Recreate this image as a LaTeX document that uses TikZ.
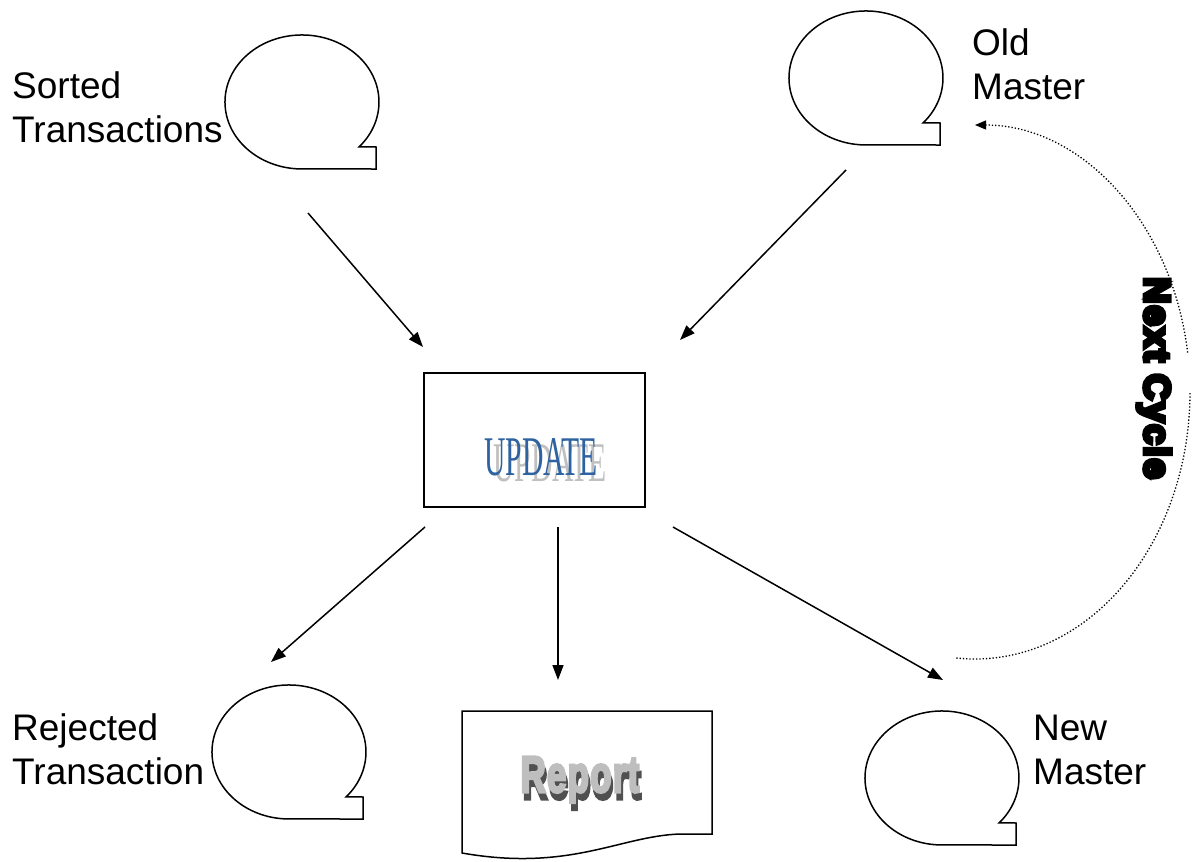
\documentclass[tikz,border=0pt]{standalone}
\usepackage{fontspec}
\setmainfont{Liberation Sans}
\newfontfamily\serifw{Liberation Serif}
\newfontfamily\heavyfont[LetterSpace=6, BoldFeatures={FakeBold=12}]{Liberation Sans}
\newfontfamily\repfont[LetterSpace=4, BoldFeatures={FakeBold=6}]{Liberation Sans}
\usetikzlibrary{arrows.meta}

\definecolor{updblue}{RGB}{46,98,160}
\definecolor{updshadow}{RGB}{192,192,192}
\definecolor{repshadow}{RGB}{80,80,80}
\definecolor{repfill}{RGB}{190,190,190}

\tikzset{
  tapeline/.style={draw=black, line width=1.5pt, line join=miter},
  flow/.style={line width=1.5pt, -{Triangle[length=15pt,width=11pt]}},
  cycleflow/.style={line width=1.3pt, dash pattern=on 1.3pt off 2pt},
  cyclehead/.style={cycleflow, -{Triangle[length=11pt,width=9pt]}},
  lbl/.style={font=\fontsize{37}{44}\selectfont, align=left, inner sep=0pt, anchor=base west},
  % magnetic tape symbol: ellipse with a square tail at the lower right
  tape/.pic={
    \draw[tapeline] (57.2,44.8)
      arc[start angle=-42, end angle=270, x radius=77pt, y radius=67pt]
      -- (74,67) -- (74,45) -- cycle;
  }
}

\begin{document}
\begin{tikzpicture}[x=1pt, y=-1pt]
  \path[use as bounding box] (0,0) rectangle (1194,862);

  % files
  \pic at (302,102) {tape};
  \pic at (866,78) {tape};
  \pic at (289,752) {tape};
  \pic at (942,778) {tape};

  % labels (anchored at the baseline of their last line)
  \node[lbl] (lsort) at (12,142) {Sorted\\Transactions};
  \node[lbl] (lold) at (972,99) {Old\\Master};
  \node[lbl] (lrej) at (12,784) {Rejected\\Transaction};
  \node[lbl] (lnew) at (1033,784) {New\\Master};

  % update process
  \node[draw, line width=1.5pt, minimum width=221pt, minimum height=134pt,
        inner sep=0pt] (upd) at (534.5,440) {};
  \node[font=\serifw\fontsize{56}{56}\selectfont, xscale=0.53, text=updshadow,
        anchor=base, inner sep=0pt] (updsh) at (550,481) {UPDATE};
  \node[font=\serifw\fontsize{56}{56}\selectfont, xscale=0.53, text=updblue,
        anchor=base, inner sep=0pt] (updtxt) at (541,475) {UPDATE};

  % report document
  \draw[tapeline] (462,711) -- (712,711) -- (712,834) -- (680,834)
    .. controls (620,836) and (570,872) .. (462,853) -- cycle;
  \node[font=\repfont\bfseries\fontsize{51}{51}\selectfont, xscale=0.68,
        text=repshadow, anchor=base, inner sep=0pt] (repsh) at (582,799) {Report};
  \node[font=\repfont\bfseries\fontsize{51}{51}\selectfont, xscale=0.68,
        text=repfill, anchor=base, inner sep=0pt] (rep) at (580,792) {Report};

  % flow end points
  \coordinate (sA) at (308,213);  \coordinate (tA) at (423,347);
  \coordinate (sB) at (846,170);  \coordinate (tB) at (680,340);
  \coordinate (sC) at (425,527);  \coordinate (tC) at (271,662);
  \coordinate (sD) at (558,527);  \coordinate (tD) at (558,680);
  \coordinate (sE) at (673,527);  \coordinate (tE) at (943,680);

  \draw[flow] (sA) -- (tA);
  \draw[flow] (sB) -- (tB);
  \draw[flow] (sC) -- (tC);
  \draw[flow] (sD) -- (tD);
  \draw[flow] (sE) -- (tE);

  % next cycle loop
  \coordinate (cyc) at (975,392);
  \draw[cycleflow] (cyc) ++(-95:215pt and 267pt)
    arc[start angle=-95, end angle=0, x radius=215pt, y radius=267pt];
  \draw[cyclehead] (cyc) ++(8.5:215pt and 267pt)
    arc[start angle=8.5, end angle=90, x radius=215pt, y radius=267pt];
  \node[rotate=-90, font=\heavyfont\bfseries\fontsize{36}{36}\selectfont,
        inner sep=0pt] (nc) at (1154,378) {Next Cycle};
\end{tikzpicture}
\end{document}
